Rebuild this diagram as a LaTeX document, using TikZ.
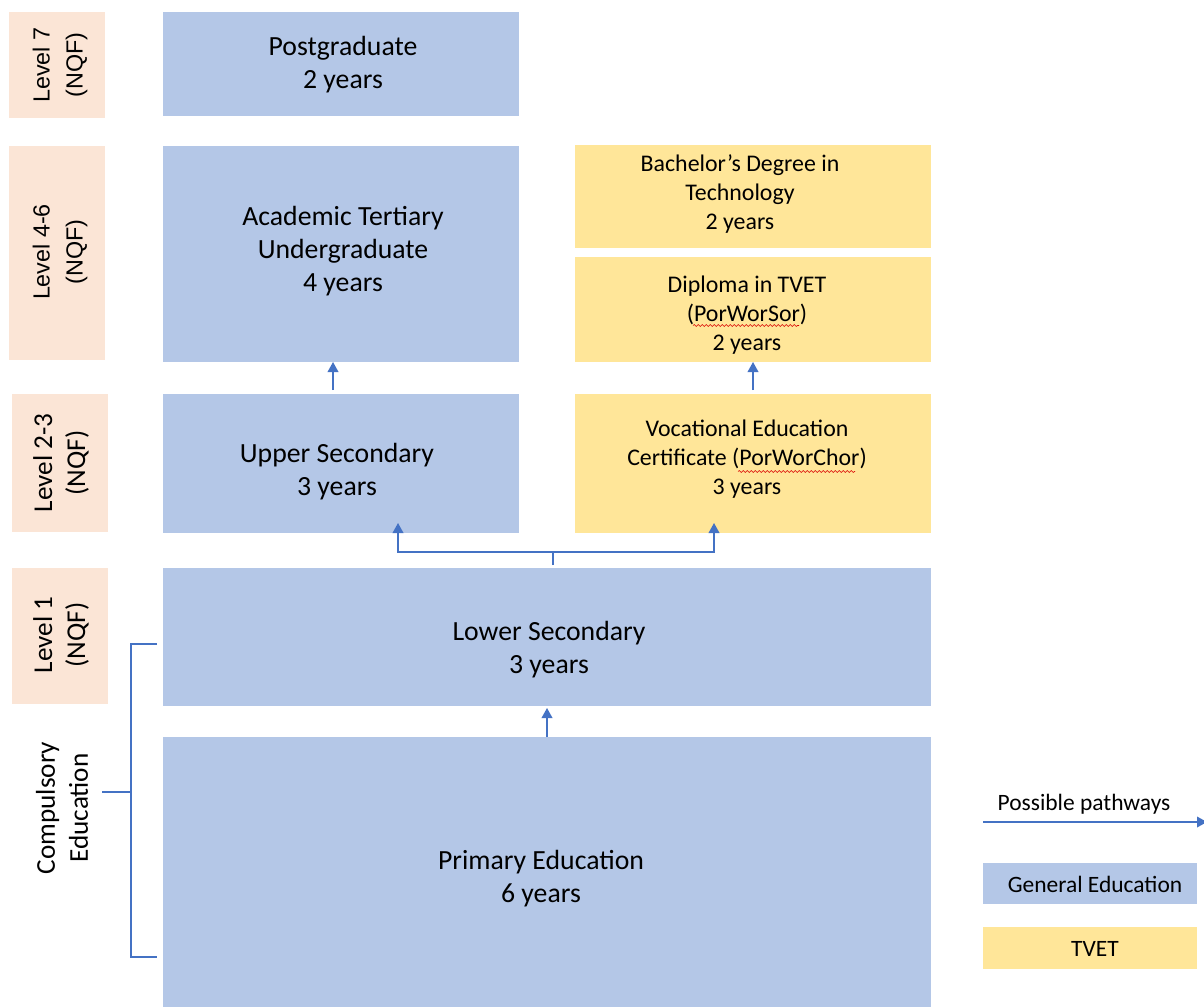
\documentclass[tikz,border=0pt]{standalone}
\usepackage{fontspec}
\setmainfont{Carlito}
\newfontfamily\arialfont{Liberation Sans}
\usetikzlibrary{arrows.meta,calc,decorations.pathmorphing}

\definecolor{genblue}{HTML}{B4C7E7}
\definecolor{tvetyellow}{HTML}{FFE699}
\definecolor{levelpeach}{HTML}{FBE5D6}
\definecolor{pathblue}{HTML}{4472C4}

\begin{document}
\begin{tikzpicture}[x=0.75pt,y=-0.75pt,
  block/.style={rectangle, inner sep=0pt, outer sep=0pt},
  gen/.style={block, fill=genblue},
  tvetbox/.style={block, fill=tvetyellow},
  lvl/.style={block, fill=levelpeach},
  bigtxt/.style={align=center, inner sep=0pt, font=\fontsize{20.8}{24.75}\selectfont},
  smalltxt/.style={align=center, inner sep=0pt, font=\fontsize{17.9}{21.75}\selectfont},
  legtxt/.style={align=center, inner sep=0pt, font=\fontsize{17.6}{21}\selectfont},
  lvltxt/.style={align=center, rotate=90, inner sep=0pt, font=\arialfont\fontsize{17.5}{24.75}\selectfont},
  lvltxtc/.style={align=center, rotate=90, inner sep=0pt, font=\fontsize{20.4}{24.75}\selectfont},
  pathway/.style={draw=pathblue, line width=1.1pt},
  pathtip/.style={pathway, -{Triangle[width=8pt,length=7.5pt]}},
  squiggle/.style={draw=red!85!black, line width=0.45pt, decorate,
    decoration={snake, amplitude=0.7pt, segment length=3pt}},
]
\useasboundingbox (0,0) rectangle (1204,1007);

% NQF level labels
\node[lvl, minimum width=72pt, minimum height=79.5pt]  (l7)  at (57,65) {};
\node[lvl, minimum width=72pt, minimum height=160.5pt] (l46) at (57,253) {};
\node[lvl, minimum width=72pt, minimum height=103.5pt] (l23) at (60,463) {};
\node[lvl, minimum width=72pt, minimum height=102pt]   (l1)  at (60,636) {};
\node[lvltxt]  (l7-t)  at (60,65)  {Level 7\\(NQF)};
\node[lvltxt]  (l46-t) at (60,252) {Level 4-6\\(NQF)};
\node[lvltxtc] (l23-t) at (61,463) {Level 2-3\\(NQF)};
\node[lvltxtc] (l1-t)  at (61,635) {Level 1\\(NQF)};

% General education column
\node[gen, minimum width=267pt, minimum height=78pt]    (pg)    at (341,64) {};
\node[gen, minimum width=267pt, minimum height=162pt]   (acad)  at (341,254) {};
\node[gen, minimum width=267pt, minimum height=104.25pt] (upper) at (341,463.5) {};
\node[gen, minimum width=576pt, minimum height=103.5pt] (lower) at (547,637) {};
\node[gen, minimum width=576pt, minimum height=202.5pt] (prim)  at (547,872) {};

\node[bigtxt] (pg-t)    at (343,64.5) {Postgraduate\\2 years};
\node[bigtxt] (acad-t)  at (343,251)  {Academic Tertiary\\Undergraduate\\4 years};
\node[bigtxt] (upper-t) at (337,472)  {Upper Secondary\\3 years};
\node[bigtxt] (lower-t) at (549,649.5) {Lower Secondary\\3 years};
\node[bigtxt] (prim-t)  at (541,878.5) {Primary Education\\6 years};

% TVET column
\node[tvetbox, minimum width=267pt, minimum height=77.25pt]  (bach) at (753,196.5) {};
\node[tvetbox, minimum width=267pt, minimum height=78.75pt]  (dip)  at (753,309.5) {};
\node[tvetbox, minimum width=267pt, minimum height=104.25pt] (voc)  at (753,463.5) {};

\node[smalltxt] (bach-t) at (740,194.5) {Bachelor’s Degree in\\Technology\\2 years};
\node[smalltxt] (dip-t)  at (747,315.5) {Diploma in TVET\\(PorWorSor)\\2 years};
\node[smalltxt] (voc-t)  at (747,459.5) {Vocational Education\\Certificate (PorWorChor)\\3 years};

% spelling marks under the Thai abbreviations
\draw[squiggle] (693,325.5) -- (799,325.5);
\draw[squiggle] (738,471.5) -- (855,471.5);

% compulsory education bracket
\node[lvltxtc] (comp-t) at (62,808) {Compulsory\\Education};
\coordinate (bt) at (157,644);
\coordinate (bb) at (157,957);
\coordinate (bm) at (102,792);
\draw[pathway, line width=1pt] (bt) -- (131,644) -- (131,957) -- (bb);
\draw[pathway, line width=1pt] (bm) -- (bm -| 131,0);

% pathways
\coordinate (a1) at (333,390);
\draw[pathtip] (a1) -- (a1 |- acad.south);
\coordinate (a2) at (753,390);
\draw[pathtip] (a2) -- (a2 |- dip.south);
\coordinate (a3) at (547,737);
\draw[pathtip] (a3) -- (547,708);
\coordinate (bs) at (553,565);
\coordinate (br) at (553,552);
\coordinate (tl) at (398,523);
\coordinate (tr) at (714,523);
\draw[pathway] (bs) -- (br);
\draw[pathtip] (br) -| (tl);
\draw[pathtip] (br) -| (tr);

% legend
\node[legtxt] (leg-p) at (1084,804) {Possible pathways};
\coordinate (la) at (983,822);
\coordinate (lb) at (1207,822);
\draw[pathtip] (la) -- (lb);
\node[gen, minimum width=160.5pt, minimum height=30.75pt] (leg-g) at (1090,883.5) {};
\node[legtxt] (leg-g-t) at (1095,884.5) {General Education};
\node[tvetbox, minimum width=160.5pt, minimum height=31.5pt] (leg-t) at (1090,948) {};
\node[legtxt] (leg-t-t) at (1095,949) {TVET};
\end{tikzpicture}
\end{document}
